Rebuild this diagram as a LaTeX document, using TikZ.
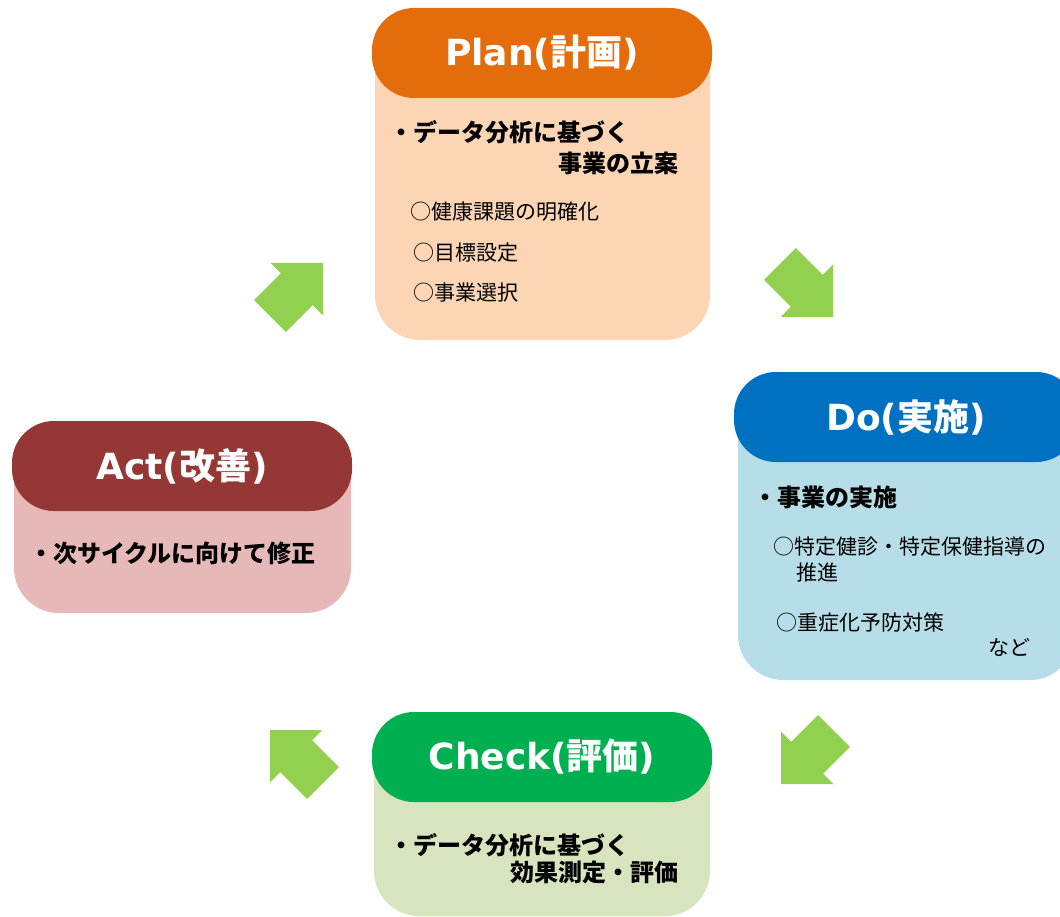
\documentclass[tikz,border=0pt]{standalone}
\usepackage{fontspec}
\setmainfont{Noto Sans CJK JP}
\newfontfamily\latfont{DejaVu Sans}
\usepackage{xcolor}

\definecolor{planhead}{HTML}{E46C0A}
\definecolor{planbody}{HTML}{FCD5B5}
\definecolor{dohead}{HTML}{0070C0}
\definecolor{dobody}{HTML}{B7DEE8}
\definecolor{checkhead}{HTML}{00B050}
\definecolor{checkbody}{HTML}{D7E4BD}
\definecolor{acthead}{HTML}{953735}
\definecolor{actbody}{HTML}{E6B9B8}
\definecolor{arrowgreen}{HTML}{92D050}

\newcommand{\phasetitle}[2]{{\latfont #1(}#2{\latfont )}}

\begin{document}
\begin{tikzpicture}[x=1pt,y=-1pt,
	head/.style={rounded corners=42pt, minimum width=340pt, minimum height=90pt, inner sep=0pt,
		text=white, font=\fontsize{36}{40}\selectfont\bfseries},
	lead/.style={anchor=west, inner sep=0pt, font=\fontsize{24}{28}\selectfont\bfseries},
	item/.style={anchor=west, inner sep=0pt, font=\fontsize{21}{25}\selectfont}]
	
	\clip (0,0) rectangle (1060,917);
	
	% bodies
	\fill[planbody, rounded corners=45pt] (375,53) -- (375,340) -- (710,340) -- (710,53);
	\fill[dobody, rounded corners=45pt] (738,417) -- (738,680) -- (1075,680) -- (1075,417);
	\fill[checkbody, rounded corners=45pt] (374,757) -- (374,916) -- (710,916) -- (710,757);
	\fill[actbody, rounded corners=45pt] (14,466) -- (14,613) -- (351,613) -- (351,466);
	
	% headers
	\node[head, fill=planhead] (plan) at (542,53) {\phasetitle{Plan}{計画}};
	\node[head, fill=dohead, minimum width=344pt] (do) at (906,417) {\phasetitle{Do}{実施}};
	\node[head, fill=checkhead] (check) at (542,757) {\phasetitle{Check}{評価}};
	\node[head, fill=acthead] (act) at (182,466) {\phasetitle{Act}{改善}};
	
	% plan
	\node[lead] (plana) at (389,132) {・データ分析に基づく};
	\node[lead] (planb) at (558,163) {事業の立案};
	\node[item] (planc) at (410,212) {○健康課題の明確化};
	\node[item] (pland) at (413,253) {○目標設定};
	\node[item] (plane) at (413,293) {○事業選択};
	
	% do
	\node[lead] (doa) at (753,497) {・事業の実施};
	\node[item] (dob) at (773,547) {○特定健診・特定保健指導の};
	\node[item] (doc) at (796,572) {推進};
	\node[item] (dod) at (776,622) {○重症化予防対策};
	\node[item] (doe) at (988,647) {など};
	
	% check
	\node[lead] (checka) at (389,845) {・データ分析に基づく};
	\node[lead] (checkb) at (510,872) {効果測定・評価};
	
	% act
	\node[lead] (acta) at (29,553) {・次サイクルに向けて修正};
	
	% arrows
	\foreach \tx/\ty/\ang in {323/263/45, 833/317/-45, 781/784/-135, 270/730/135}
	{
		\fill[arrowgreen, shift={(\tx,\ty)}, rotate=\ang]
			(0,0) -- (-37,37) -- (-37,22.5) -- (-75,22.5) -- (-75,-22.5) -- (-37,-22.5) -- (-37,-37) -- cycle;
	}
\end{tikzpicture}
\end{document}
